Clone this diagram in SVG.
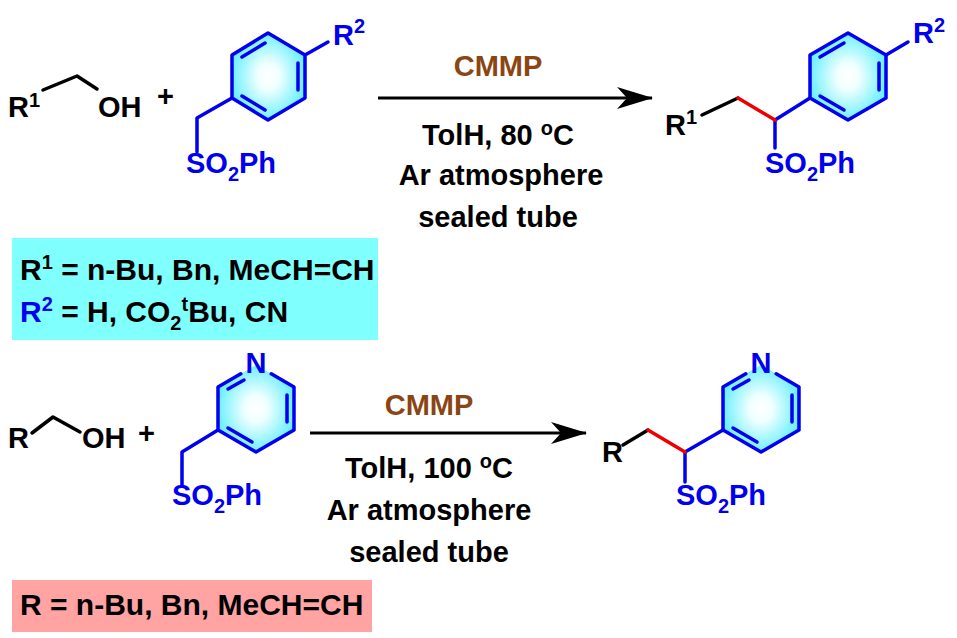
<svg xmlns="http://www.w3.org/2000/svg" width="957" height="638" viewBox="0 0 957 638">
<defs>
<radialGradient id="ringfill" cx="50%" cy="50%" r="50%">
<stop offset="0%" stop-color="#ffffff"/>
<stop offset="30%" stop-color="#f0ffff"/>
<stop offset="100%" stop-color="#6ef0ff"/>
</radialGradient>
<marker id="ah" viewBox="0 0 36 22" refX="35" refY="11" markerWidth="36" markerHeight="22" markerUnits="userSpaceOnUse" orient="auto">
<path d="M36,11 L0,0 L10,11 L0,22 Z" fill="#000"/>
</marker>
</defs>
<style>
text{font-family:"Liberation Sans",Arial,sans-serif;font-weight:bold;font-size:29px;fill:#000}
.lg{font-size:30px}
.b{fill:#0000ee}
.br{fill:#8b4513}
.sup{font-size:20px}
.bk{stroke:#000;stroke-width:3.5;fill:none;stroke-linecap:round;stroke-linejoin:round}
.bl{stroke:#0000ee;stroke-width:3.5;fill:none;stroke-linecap:round;stroke-linejoin:round}
.rd{stroke:#ee0000;stroke-width:3.5;fill:none;stroke-linecap:round}
.ring{fill:url(#ringfill);stroke:none}
.arr{stroke:#000;stroke-width:3;fill:none}
</style>

<!-- Reaction 1 -->
<g id="alcohol1">
<text x="8" y="117">R<tspan class="sup" dy="-10">1</tspan></text>
<polyline class="bk" points="43,90 77,76 97,89"/>
<text x="98" y="117">OH</text>
</g>
<g id="plus1"><text x="157" y="106">+</text></g>
<g id="sulfone1">
<polygon class="ring" points="268,33 305,55 305,98 268,120 232,98 232,55"/>
<polygon class="bl" points="268,33 305,55 305,98 268,120 232,98 232,55"/>
<line class="bl" x1="242" y1="57" x2="265" y2="43"/>
<line class="bl" x1="298" y1="63" x2="298" y2="90"/>
<line class="bl" x1="242" y1="96" x2="265" y2="110"/>
<line class="bl" x1="305" y1="55" x2="328" y2="42"/>
<text class="b" x="333" y="45">R<tspan class="sup" dy="-12">2</tspan></text>
<polyline class="bl" points="232,98 197,118 197,152"/>
<text class="b" x="186" y="173">SO<tspan class="sup" dy="8">2</tspan><tspan dy="-8">Ph</tspan></text>
</g>
<g id="product1">
<text x="665" y="135">R<tspan class="sup" dy="-11">1</tspan></text>
<polygon class="ring" points="848,33 886,55 886,98 848,120 810,98 810,55"/>
<polygon class="bl" points="848,33 886,55 886,98 848,120 810,98 810,55"/>
<line class="bl" x1="820" y1="57" x2="844" y2="43"/>
<line class="bl" x1="879" y1="63" x2="879" y2="90"/>
<line class="bl" x1="820" y1="96" x2="844" y2="110"/>
<line class="bl" x1="886" y1="55" x2="908" y2="42"/>
<text class="b" x="913" y="43">R<tspan class="sup" dy="-11">2</tspan></text>
<line class="bl" x1="775" y1="120" x2="810" y2="98"/>
<line class="bl" x1="775" y1="120" x2="775" y2="148"/>
<text class="b" x="765" y="173">SO<tspan class="sup" dy="8">2</tspan><tspan dy="-8">Ph</tspan></text>
</g>
<g id="conditions1">
<text class="br" x="498" y="76" text-anchor="middle">CMMP</text>
<text x="498" y="145" text-anchor="middle">TolH, 80 <tspan class="sup" dy="-10">o</tspan><tspan dy="10">C</tspan></text>
<text x="501" y="185" text-anchor="middle">Ar atmosphere</text>
<text x="498" y="227" text-anchor="middle">sealed tube</text>
</g>
<g id="legend1">
<rect x="12" y="238" width="366" height="102" fill="#80ffff"/>
<text class="lg" x="20" y="280">R<tspan class="sup" dy="-11">1</tspan><tspan dy="11"> = n-Bu, Bn, MeCH=CH</tspan></text>
<text class="lg" x="20" y="322"><tspan class="b">R</tspan><tspan class="b sup" dy="-11">2</tspan><tspan dy="11"> = H, CO</tspan><tspan class="sup" dy="8">2</tspan><tspan class="sup" dy="-19">t</tspan><tspan dy="11">Bu, CN</tspan></text>
</g>

<!-- Reaction 2 -->
<g id="alcohol2">
<text x="8" y="448">R</text>
<polyline class="bk" points="32,433 53,417 80,432"/>
<text x="82" y="448">OH</text>
</g>
<g id="plus2"><text x="138" y="443">+</text></g>
<g id="sulfone2">
<polygon class="ring" points="256,365 294,387 294,430 256,452 218,430 218,387"/>
<polyline class="bl" points="240.8,373.8 218,387 218,430 256,452 294,430 294,387 271.2,373.8"/>
<line class="bl" x1="228" y1="389" x2="244" y2="380"/>
<line class="bl" x1="287" y1="395" x2="287" y2="422"/>
<line class="bl" x1="228" y1="428" x2="252" y2="442"/>
<text class="b" x="256" y="373" text-anchor="middle">N</text>
<polyline class="bl" points="218,430 182,452 182,485"/>
<text class="b" x="172" y="505">SO<tspan class="sup" dy="8">2</tspan><tspan dy="-8">Ph</tspan></text>
</g>
<g id="product2">
<text x="602" y="462">R</text>
<polygon class="ring" points="761,365 799,387 799,430 761,452 723,430 723,387"/>
<polyline class="bl" points="745.8,373.8 723,387 723,430 761,452 799,430 799,387 776.2,373.8"/>
<line class="bl" x1="733" y1="389" x2="749" y2="380"/>
<line class="bl" x1="792" y1="395" x2="792" y2="422"/>
<line class="bl" x1="733" y1="428" x2="757" y2="442"/>
<text class="b" x="761" y="373" text-anchor="middle">N</text>
<line class="bl" x1="685" y1="452" x2="723" y2="430"/>
<line class="bl" x1="685" y1="452" x2="685" y2="482"/>
<text class="b" x="676" y="505">SO<tspan class="sup" dy="8">2</tspan><tspan dy="-8">Ph</tspan></text>
</g>
<g id="conditions2">
<text class="br" x="429" y="415" text-anchor="middle">CMMP</text>
<text x="429" y="478" text-anchor="middle">TolH, 100 <tspan class="sup" dy="-10">o</tspan><tspan dy="10">C</tspan></text>
<text x="429" y="520" text-anchor="middle">Ar atmosphere</text>
<text x="429" y="562" text-anchor="middle">sealed tube</text>
</g>
<g id="legend2">
<rect x="12" y="580" width="360" height="52" fill="#ffa3a3"/>
<text class="lg" x="20" y="615">R = n-Bu, Bn, MeCH=CH</text>
</g>

<g id="connectors">
<line class="arr" x1="378" y1="98" x2="652" y2="98" marker-end="url(#ah)"/>
<line class="arr" x1="310" y1="433" x2="586" y2="433" marker-end="url(#ah)"/>
<line class="bk" x1="702" y1="115" x2="738" y2="98"/>
<line class="rd" x1="738" y1="98" x2="775" y2="120"/>
<line class="bk" x1="623" y1="445" x2="648" y2="430"/>
<line class="rd" x1="648" y1="430" x2="685" y2="452"/>
</g>
</svg>
